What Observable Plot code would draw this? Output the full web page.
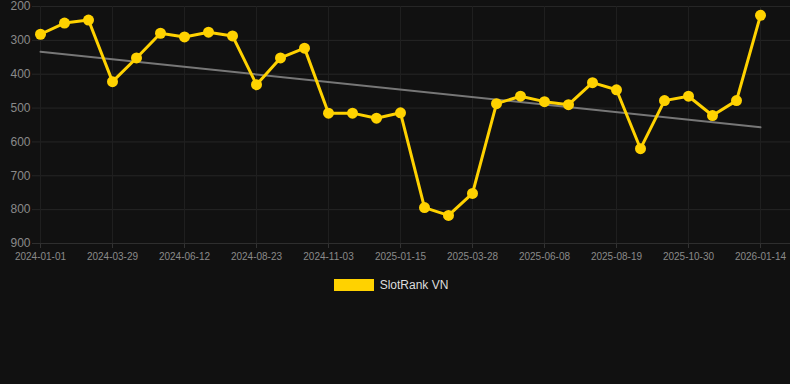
<!DOCTYPE html>
<html>
<head>
<meta charset="utf-8">
<script src="https://cdn.jsdelivr.net/npm/d3@7"></script>
<script src="https://cdn.jsdelivr.net/npm/@observablehq/plot@0.6"></script>
<style>
  html, body { margin: 0; padding: 0; background: #111111; width: 790px; height: 384px; overflow: hidden; }
  #chart svg { display: block; }
  #legend { display: flex; justify-content: center; align-items: center; margin-top: 8px; padding-right: 8px; font-family: "Liberation Sans", Arial, sans-serif; font-size: 12px; color: #dddddd; }
  #legend .sw { width: 40px; height: 12px; background: #ffd200; margin-right: 6px; }
</style>
</head>
<body>
<div id="chart"></div>
<div id="legend"><span class="sw"></span><span>SlotRank VN</span></div>
<script>
const seriesName = "SlotRank VN";
const ranks = [282, 249, 240, 422, 352, 279, 290, 276, 287, 431,
               352, 323, 515, 515, 530, 514, 794, 817, 752, 487,
               465, 481, 490, 425, 446, 620, 478, 465, 522, 478, 226];
const tickLabels = ["2024-01-01", "2024-03-29", "2024-06-12", "2024-08-23", "2024-11-03",
                    "2025-01-15", "2025-03-28", "2025-06-08", "2025-08-19", "2025-10-30", "2026-01-14"];
const yTicks = [200, 300, 400, 500, 600, 700, 800, 900];

const data = ranks.map((v, i) => ({i, v}));
const xTicks = tickLabels.map((_, k) => k * 3);

const plot = Plot.plot({
  width: 790,
  height: 270,
  marginLeft: 32,
  marginRight: 0,
  marginTop: 6,
  marginBottom: 27,
  style: {background: "#111111", fontFamily: "Liberation Sans, Arial, sans-serif"},
  x: {type: "linear", domain: [-1/3, 31.25], ticks: xTicks, tickFormat: d => tickLabels[d / 3], label: null},
  y: {domain: [200, 900], reverse: true, ticks: yTicks, label: null},
  marks: [
    Plot.gridY(yTicks, {stroke: "#262626", strokeOpacity: 1}),
    Plot.gridX(xTicks, {stroke: "#1f1f1f", strokeOpacity: 1}),
    Plot.axisY({ticks: yTicks, tickSize: 0, tickPadding: 2, fontSize: 12, fill: "#8a8a8a", label: null}),
    Plot.axisX({ticks: xTicks, tickFormat: d => tickLabels[d / 3], tickSize: 5, tickPadding: 4, stroke: "#333", fontSize: 10, fill: "#8a8a8a", label: null}),
    Plot.ruleY([900], {stroke: "#2e2e2e"}),
    Plot.linearRegressionY(data, {x: "i", y: "v", stroke: "#777777", strokeWidth: 2, ci: 0}),
    Plot.line(data, {x: "i", y: "v", stroke: "#ffd200", strokeWidth: 3}),
    Plot.dot(data, {x: "i", y: "v", fill: "#ffd200", r: 5.5})
  ]
});
document.getElementById("chart").appendChild(plot);
</script>
</body>
</html>
